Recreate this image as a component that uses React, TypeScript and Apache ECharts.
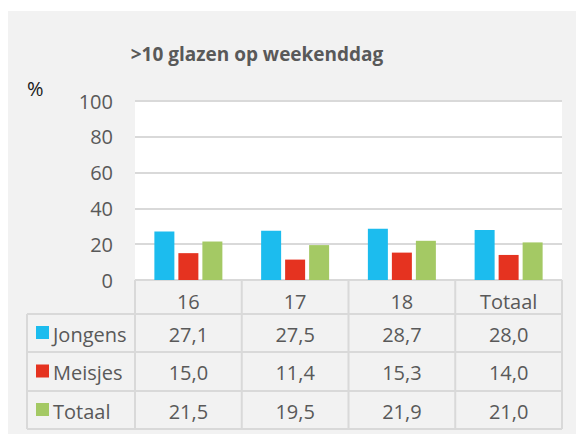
import React, { useEffect, useRef } from 'react';
import * as echarts from 'echarts';

const title = '>10 glazen op weekenddag';
const unitLabel = '%';
const categories = ['16', '17', '18', 'Totaal'];
const seriesNames = ['Jongens', 'Meisjes', 'Totaal'];
const jongens = [27.1, 27.5, 28.7, 28.0];
const meisjes = [15.0, 11.4, 15.3, 14.0];
const totaal = [21.5, 19.5, 21.9, 21.0];
const seriesValues = [jongens, meisjes, totaal];
const colors = ['#1CBCEE', '#E53320', '#A4C964'];

const FONT = '"Open Sans", "Liberation Sans", sans-serif';
const TEXT = '#595959';
const LINE = '#d9d9d9';
const FS = 20;

const W = 576;
const H = 434;
const GRID_L = 135;
const GRID_R = 562;
const GRID_T = 101;
const GRID_B = 280;
const TABLE_L = 27;
const ROW_EDGES = [314, 352, 391, 429];

const fmt = (v: number) => v.toFixed(1).replace('.', ',');

export default function App() {
  const ref = useRef<HTMLDivElement>(null);
  useEffect(() => {
    const chart = echarts.init(ref.current!, null, { renderer: 'svg' });
    chart.setOption({
      animation: false,
      backgroundColor: '#ffffff',
      grid: {
        left: GRID_L,
        top: GRID_T,
        width: GRID_R - GRID_L,
        height: GRID_B - GRID_T,
        show: true,
        backgroundColor: '#ffffff',
        borderWidth: 0,
      },
      xAxis: {
        type: 'category',
        data: categories,
        axisLine: { show: false },
        axisTick: { show: false },
        axisLabel: {
          fontSize: FS,
          fontFamily: FONT,
          color: TEXT,
          margin: 21,
          verticalAlign: 'middle',
        },
      },
      yAxis: {
        type: 'value',
        min: 0,
        max: 100,
        interval: 20,
        axisLine: { show: false },
        axisTick: { show: false },
        axisLabel: {
          fontSize: FS,
          fontFamily: FONT,
          color: TEXT,
          margin: 22,
          padding: [6, 0, 0, 0],
        },
        splitLine: { lineStyle: { color: LINE, width: 2 } },
      },
      series: seriesNames.map((name, i) => ({
        type: 'bar',
        name,
        data: seriesValues[i],
        barWidth: 20,
        barGap: '20%',
        itemStyle: { color: colors[i] },
      })),
    });

    const centers = categories.map(
      (c) => chart.convertToPixel({ xAxisIndex: 0 }, c) as number
    );
    const band = (GRID_R - GRID_L) / categories.length;
    const edges = [centers[0] - band / 2, ...centers.map((c) => c + band / 2)];

    const lineStyle = { stroke: LINE, lineWidth: 2 };
    const elements: any[] = [];
    elements.push({
      type: 'rect',
      z: -100,
      shape: { x: 8, y: 11, width: W - 8, height: H - 11 },
      style: { fill: '#f2f2f2' },
      silent: true,
    });
    elements.push({
      type: 'text',
      x: 257,
      y: 54,
      style: {
        text: title,
        fill: TEXT,
        fontSize: 19,
        fontWeight: 'bold',
        fontFamily: FONT,
        align: 'center',
        verticalAlign: 'middle',
        textAlign: 'center',
        textVerticalAlign: 'middle',
      },
    });
    elements.push({
      type: 'text',
      x: 27,
      y: 88,
      style: {
        text: unitLabel,
        fill: '#1a1a1a',
        fontSize: FS,
        fontFamily: FONT,
        align: 'left',
        verticalAlign: 'middle',
        textAlign: 'left',
        textVerticalAlign: 'middle',
      },
    });
    ROW_EDGES.forEach((y) => {
      elements.push({
        type: 'line',
        shape: { x1: TABLE_L, y1: y, x2: GRID_R, y2: y },
        style: lineStyle,
      });
    });
    elements.push({
      type: 'line',
      shape: { x1: TABLE_L, y1: ROW_EDGES[0], x2: TABLE_L, y2: ROW_EDGES[ROW_EDGES.length - 1] },
      style: lineStyle,
    });
    edges.forEach((x) => {
      elements.push({
        type: 'line',
        shape: { x1: x, y1: GRID_B, x2: x, y2: ROW_EDGES[ROW_EDGES.length - 1] },
        style: lineStyle,
      });
    });
    seriesNames.forEach((name, r) => {
      const cy = (ROW_EDGES[r] + ROW_EDGES[r + 1]) / 2 + 1;
      elements.push({
        type: 'rect',
        shape: { x: 36, y: cy - 8, width: 13, height: 13 },
        style: { fill: colors[r] },
      });
      elements.push({
        type: 'text',
        x: 53,
        y: cy,
        style: {
          text: name,
          fill: TEXT,
          fontSize: FS,
          fontFamily: FONT,
          align: 'left',
          verticalAlign: 'middle',
          textAlign: 'left',
          textVerticalAlign: 'middle',
        },
      });
      seriesValues[r].forEach((v, i) => {
        elements.push({
          type: 'text',
          x: centers[i],
          y: cy,
          style: {
            text: fmt(v),
            fill: TEXT,
            fontSize: FS,
            fontFamily: FONT,
            align: 'center',
            verticalAlign: 'middle',
            textAlign: 'center',
            textVerticalAlign: 'middle',
          },
        });
      });
    });
    chart.setOption({ graphic: { elements } });
    return () => chart.dispose();
  }, []);
  return (
    <div
      ref={ref}
      style={{ position: 'fixed', left: 0, top: 0, width: W, height: H }}
    />
  );
}
